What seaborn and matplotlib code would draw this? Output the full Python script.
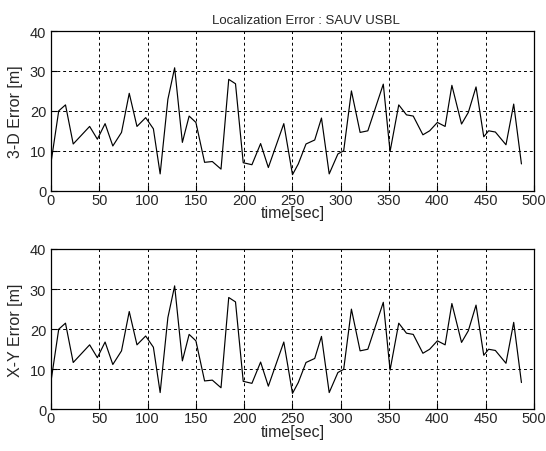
import matplotlib
matplotlib.use("Agg")
import matplotlib.pyplot as plt
import seaborn as sns

# values
time_sec = [0, 8, 15, 23, 40, 48, 56, 64, 73, 81, 89, 98, 106, 113, 121, 128, 136,
            143, 150, 159, 167, 176, 184, 191, 199, 208, 217, 225, 241, 250, 256,
            264, 273, 280, 288, 297, 303, 311, 320, 328, 344, 351, 360, 368, 375,
            385, 392, 400, 408, 415, 425, 432, 440, 448, 453, 460, 471, 479, 487]
err_3d = [7.0, 20.0, 21.5, 11.7, 16.1, 12.9, 16.8, 11.2, 14.6, 24.4, 16.1, 18.3,
          15.5, 4.2, 22.9, 30.8, 12.1, 18.7, 17.1, 7.1, 7.3, 5.4, 27.9, 26.8, 7.0,
          6.5, 11.8, 5.8, 16.8, 4.0, 6.7, 11.7, 12.7, 18.2, 4.2, 9.2, 10.0, 25.0,
          14.6, 15.0, 26.7, 9.8, 21.5, 19.0, 18.7, 14.0, 15.0, 17.1, 16.1, 26.4,
          16.7, 19.6, 26.0, 13.5, 15.0, 14.7, 11.5, 21.7, 6.7]
err_xy = [7.0, 20.0, 21.5, 11.7, 16.1, 12.9, 16.8, 11.2, 14.6, 24.4, 16.1, 18.3,
          15.5, 4.2, 22.9, 30.8, 12.1, 18.7, 17.1, 7.1, 7.3, 5.4, 27.9, 26.8, 7.0,
          6.5, 11.8, 5.8, 16.8, 4.0, 6.7, 11.7, 12.7, 18.2, 4.2, 9.2, 10.0, 25.0,
          14.6, 15.0, 26.7, 9.8, 21.5, 19.0, 18.7, 14.0, 15.0, 17.1, 16.1, 26.4,
          16.7, 19.6, 26.0, 13.5, 15.0, 14.7, 11.5, 21.7, 6.7]
xticks = [0, 50, 100, 150, 200, 250, 300, 350, 400, 450, 500]
yticks = [0, 10, 20, 30, 40]

sns.set_style("ticks")
plt.rcParams["font.family"] = ["Liberation Sans", "DejaVu Sans"]

fig = plt.figure(figsize=(5.46, 4.52), dpi=100)
ax1 = fig.add_axes([0.0934, 0.576, 0.8846, 0.353])
ax2 = fig.add_axes([0.0934, 0.092, 0.8846, 0.355])

for ax, vals, lab in [(ax1, err_3d, "3-D Error [m]"), (ax2, err_xy, "X-Y Error [m]")]:
    sns.lineplot(x=time_sec, y=vals, ax=ax, color="black", linewidth=0.85)
    ax.set_xlim(0, 500)
    ax.set_ylim(0, 40)
    ax.set_xticks(xticks)
    ax.set_yticks(yticks)
    ax.grid(True, color="black", linestyle=(0, (3, 3)), linewidth=0.7)
    ax.tick_params(direction="in", labelsize=10.5, length=4, color="black")
    ax.tick_params(axis="x", pad=1.5)
    for s in ax.spines.values():
        s.set_color("black")
        s.set_linewidth(0.9)
    ax.set_ylabel(lab, fontsize=11.5, labelpad=5)
    ax.set_xlabel("time[sec]", fontsize=11.5, labelpad=-1)

ax1.set_title("Localization Error : SAUV USBL", fontsize=9.5, pad=6, x=0.528)

fig.savefig("out.png", dpi=100)
